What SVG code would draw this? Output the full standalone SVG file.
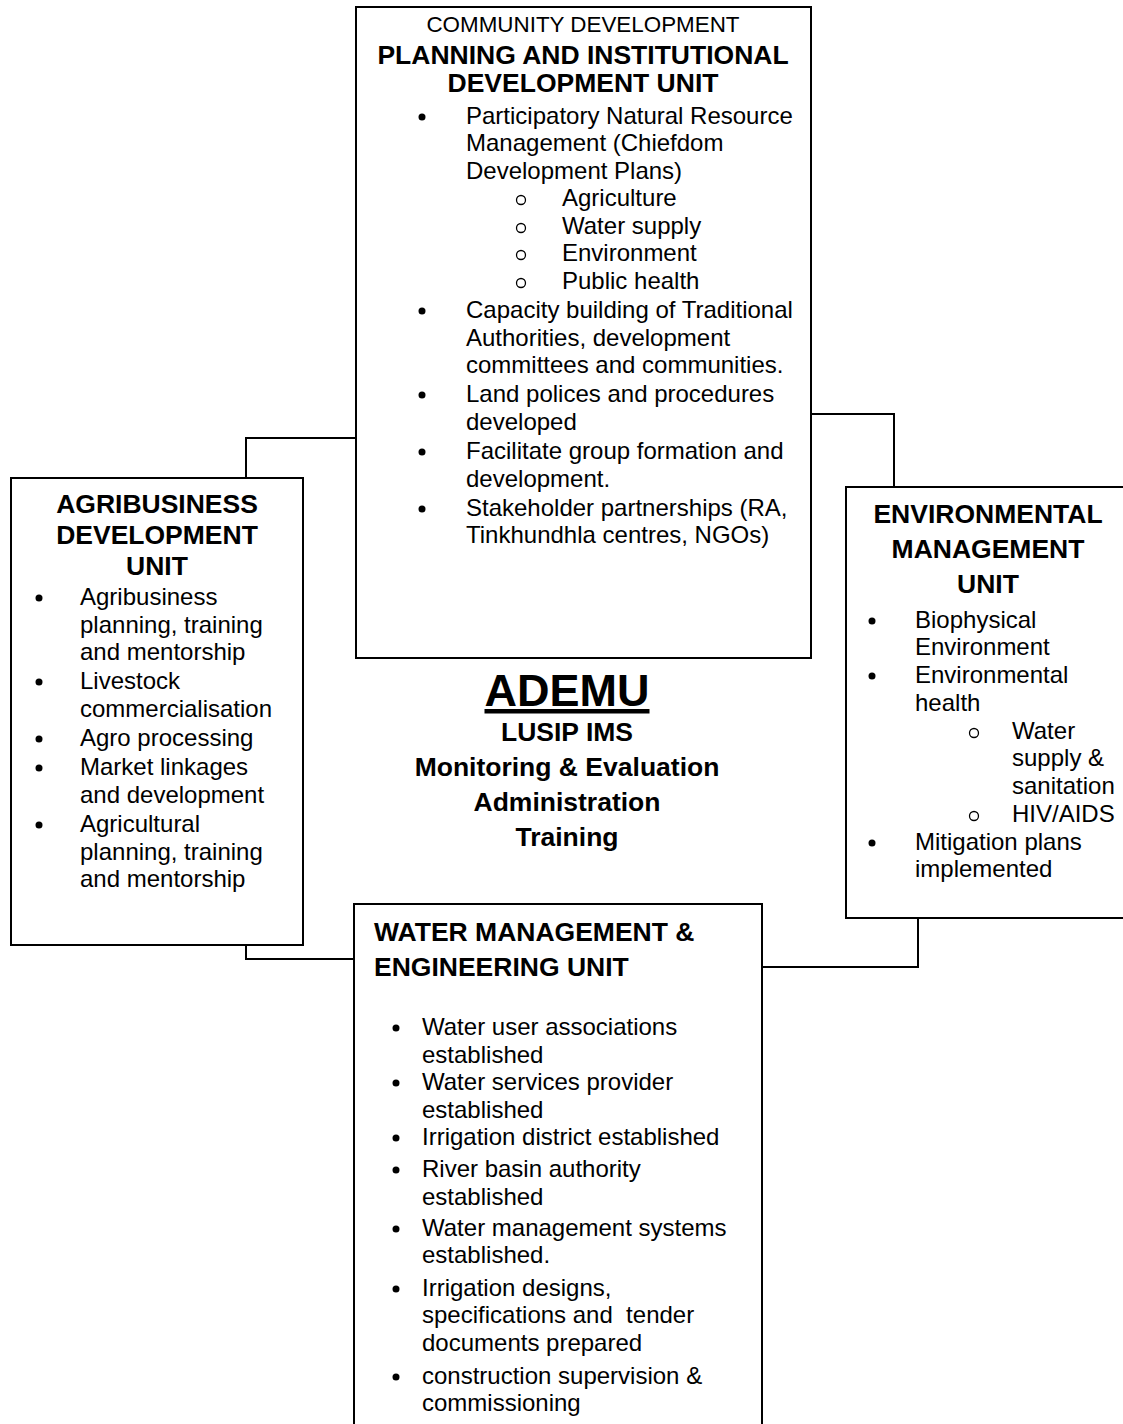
<svg xmlns="http://www.w3.org/2000/svg" width="1123" height="1424" viewBox="0 0 1123 1424">
<style>
.box{fill:#fff;stroke:#000;stroke-width:2}
.con{fill:none;stroke:#000;stroke-width:2}
text{font-family:"Liberation Sans",Arial,sans-serif;fill:#000}
.t{font-size:24px}
.h{font-size:26.5px;font-weight:bold}
.c{text-anchor:middle}
.sub{font-size:22.4px}
.b{fill:#000}
.o{fill:none;stroke:#000;stroke-width:1.3}
</style>
<rect width="1123" height="1424" fill="#fff"/>
<g id="connectors">
<polyline class="con" points="356,438 246,438 246,478"/>
<polyline class="con" points="811,414 894,414 894,487"/>
<polyline class="con" points="246,945 246,959 354,959"/>
<polyline class="con" points="762,967 918,967 918,918"/>
</g>
<g id="planning-unit">
<rect class="box" x="356" y="7" width="455" height="651"/>
<text class="sub c" x="583" y="32">COMMUNITY DEVELOPMENT</text>
<text class="h c" x="583" y="63.5">PLANNING AND INSTITUTIONAL</text>
<text class="h c" x="583" y="91.5">DEVELOPMENT UNIT</text>
<circle class="b" cx="422" cy="117" r="3.5"/>
<circle class="b" cx="422" cy="311" r="3.5"/>
<circle class="b" cx="422" cy="395" r="3.5"/>
<circle class="b" cx="422" cy="452" r="3.5"/>
<circle class="b" cx="422" cy="509" r="3.5"/>
<circle class="o" cx="521" cy="200" r="4.5"/>
<circle class="o" cx="521" cy="228" r="4.5"/>
<circle class="o" cx="521" cy="255" r="4.5"/>
<circle class="o" cx="521" cy="283" r="4.5"/>
<text class="t" x="466" y="124">Participatory Natural Resource</text>
<text class="t" x="466" y="151">Management (Chiefdom</text>
<text class="t" x="466" y="179">Development Plans)</text>
<text class="t" x="562" y="206">Agriculture</text>
<text class="t" x="562" y="234">Water supply</text>
<text class="t" x="562" y="261">Environment</text>
<text class="t" x="562" y="289">Public health</text>
<text class="t" x="466" y="318">Capacity building of Traditional</text>
<text class="t" x="466" y="346">Authorities, development</text>
<text class="t" x="466" y="373">committees and communities.</text>
<text class="t" x="466" y="402">Land polices and procedures</text>
<text class="t" x="466" y="430">developed</text>
<text class="t" x="466" y="459">Facilitate group formation and</text>
<text class="t" x="466" y="487">development.</text>
<text class="t" x="466" y="516">Stakeholder partnerships (RA,</text>
<text class="t" x="466" y="543">Tinkhundhla centres, NGOs)</text>
</g>
<g id="agribusiness-unit">
<rect class="box" x="11" y="478" width="292" height="467"/>
<text class="h c" x="157" y="512.5">AGRIBUSINESS</text>
<text class="h c" x="157" y="543.5">DEVELOPMENT</text>
<text class="h c" x="157" y="574.5">UNIT</text>
<circle class="b" cx="39" cy="598" r="3.5"/>
<circle class="b" cx="39" cy="682" r="3.5"/>
<circle class="b" cx="39" cy="739" r="3.5"/>
<circle class="b" cx="39" cy="768" r="3.5"/>
<circle class="b" cx="39" cy="825" r="3.5"/>
<text class="t" x="80" y="605">Agribusiness</text>
<text class="t" x="80" y="633">planning, training</text>
<text class="t" x="80" y="660">and mentorship</text>
<text class="t" x="80" y="689">Livestock</text>
<text class="t" x="80" y="717">commercialisation</text>
<text class="t" x="80" y="746">Agro processing</text>
<text class="t" x="80" y="775">Market linkages</text>
<text class="t" x="80" y="803">and development</text>
<text class="t" x="80" y="832">Agricultural</text>
<text class="t" x="80" y="860">planning, training</text>
<text class="t" x="80" y="887">and mentorship</text>
</g>
<g id="environmental-unit">
<rect class="box" x="846" y="487" width="290" height="431"/>
<text class="h c" x="988" y="522.5">ENVIRONMENTAL</text>
<text class="h c" x="988" y="557.5">MANAGEMENT</text>
<text class="h c" x="988" y="592.5">UNIT</text>
<circle class="b" cx="872" cy="621" r="3.5"/>
<circle class="b" cx="872" cy="676" r="3.5"/>
<circle class="b" cx="872" cy="843" r="3.5"/>
<circle class="o" cx="974" cy="733" r="4.5"/>
<circle class="o" cx="974" cy="816" r="4.5"/>
<text class="t" x="915" y="628">Biophysical</text>
<text class="t" x="915" y="655">Environment</text>
<text class="t" x="915" y="683">Environmental</text>
<text class="t" x="915" y="711">health</text>
<text class="t" x="1012" y="739">Water</text>
<text class="t" x="1012" y="766">supply &amp;</text>
<text class="t" x="1012" y="794">sanitation</text>
<text class="t" x="1012" y="822">HIV/AIDS</text>
<text class="t" x="915" y="850">Mitigation plans</text>
<text class="t" x="915" y="877">implemented</text>
</g>
<g id="ademu">
<text class="c" x="567" y="706" style="font-size:45px;font-weight:bold;text-decoration:underline">ADEMU</text>
<text class="h c" x="567" y="740.5">LUSIP IMS</text>
<text class="h c" x="567" y="776">Monitoring &amp; Evaluation</text>
<text class="h c" x="567" y="811">Administration</text>
<text class="h c" x="567" y="846">Training</text>
</g>
<g id="water-unit">
<rect class="box" x="354" y="904" width="408" height="530"/>
<text class="h" x="374" y="940.5">WATER MANAGEMENT &amp;</text>
<text class="h" x="374" y="975.5">ENGINEERING UNIT</text>
<circle class="b" cx="396" cy="1028" r="3.5"/>
<circle class="b" cx="396" cy="1083" r="3.5"/>
<circle class="b" cx="396" cy="1138" r="3.5"/>
<circle class="b" cx="396" cy="1170" r="3.5"/>
<circle class="b" cx="396" cy="1229" r="3.5"/>
<circle class="b" cx="396" cy="1289" r="3.5"/>
<circle class="b" cx="396" cy="1377" r="3.5"/>
<text class="t" x="422" y="1035">Water user associations</text>
<text class="t" x="422" y="1063">established</text>
<text class="t" x="422" y="1090">Water services provider</text>
<text class="t" x="422" y="1118">established</text>
<text class="t" x="422" y="1145">Irrigation district established</text>
<text class="t" x="422" y="1177">River basin authority</text>
<text class="t" x="422" y="1205">established</text>
<text class="t" x="422" y="1236">Water management systems</text>
<text class="t" x="422" y="1263">established.</text>
<text class="t" x="422" y="1296">Irrigation designs,</text>
<text class="t" x="422" y="1323" style="white-space:pre">specifications and  tender</text>
<text class="t" x="422" y="1351">documents prepared</text>
<text class="t" x="422" y="1384">construction supervision &amp;</text>
<text class="t" x="422" y="1411">commissioning</text>
</g>
</svg>
